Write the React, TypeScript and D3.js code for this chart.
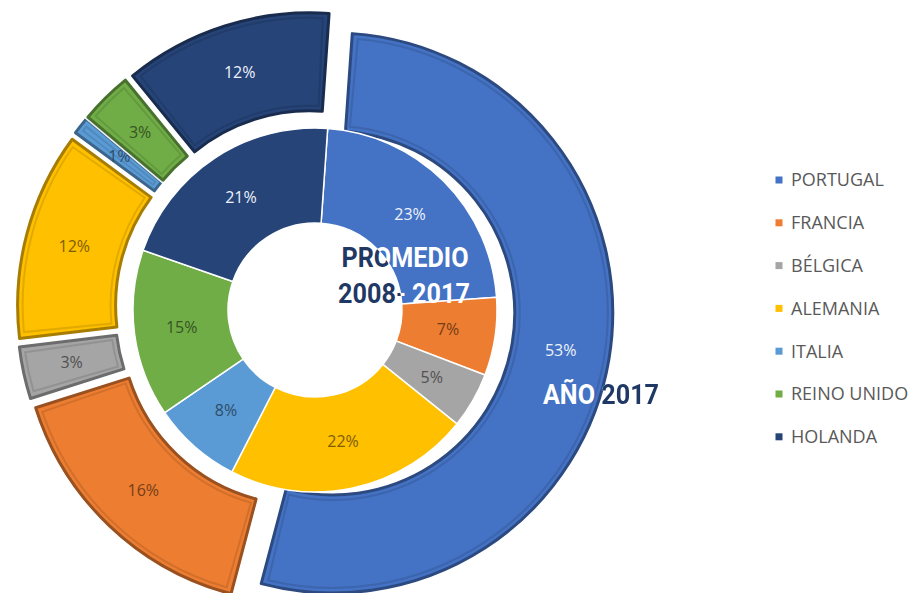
import * as d3 from 'd3'
import { useEffect, useRef } from 'react'

const WIDTH = 923
const HEIGHT = 593

const COUNTRIES = ['PORTUGAL', 'FRANCIA', 'BÉLGICA', 'ALEMANIA', 'ITALIA', 'REINO UNIDO', 'HOLANDA']
const COLORS = ['#4472C4', '#ED7D31', '#A5A5A5', '#FFC000', '#5B9BD5', '#70AD47', '#264478']
const PROMEDIO_2008_2017 = [23, 7, 5, 22, 8, 15, 21]
const ANIO_2017 = [53, 16, 3, 12, 1, 3, 12]
const WHITE_LABELS = ['PORTUGAL', 'HOLANDA']

// geometry
const CX = 315
const CY = 310
const R_HOLE = 87
const R_MID = 182
const R_OUT = 280
const EXPLODE = 18
const ROT = (4 * Math.PI) / 180

type Slice = d3.PieArcDatum<number> & { name: string; color: string }

const labelColor = (name: string, color: string) =>
  WHITE_LABELS.includes(name) ? '#eef2fb' : d3.color(color)!.darker(2).formatHex()

function drawChart(el: SVGSVGElement) {
  const svg = d3.select(el)
  svg.selectAll('*').remove()
  const defs = svg.append('defs')

  const pie = d3
    .pie<number>()
    .sort(null)
    .value((d) => d)
    .startAngle(ROT)
    .endAngle(ROT + 2 * Math.PI)

  const toSlices = (vals: number[]): Slice[] =>
    pie(vals).map((p, i) => ({ ...p, name: COUNTRIES[i], color: COLORS[i] }))

  const inner = toSlices(PROMEDIO_2008_2017)
  const outer = toSlices(ANIO_2017)

  const innerArc = d3.arc<Slice>().innerRadius(R_HOLE).outerRadius(R_MID)
  const outerArc = d3.arc<Slice>().innerRadius(R_MID).outerRadius(R_OUT)

  const g = svg.append('g').attr('transform', `translate(${CX},${CY})`)

  // outer ring (año 2017), exploded slices with a bevel look
  const shift = (d: Slice) => {
    const a = (d.startAngle + d.endAngle) / 2
    return [Math.sin(a) * EXPLODE, -Math.cos(a) * EXPLODE]
  }
  const outerG = g
    .selectAll('g.outer')
    .data(outer)
    .join('g')
    .attr('class', 'outer')
    .attr('transform', (d) => `translate(${shift(d)[0]},${shift(d)[1]})`)

  outerG
    .append('path')
    .attr('d', (d) => outerArc(d))
    .attr('fill', (d) => d.color)
    .attr('stroke', '#ffffff')
    .attr('stroke-width', 6)
    .attr('stroke-opacity', 0.9)
  outerG
    .append('path')
    .attr('d', (d) => outerArc(d))
    .attr('fill', (d) => d.color)
    .attr('stroke', (d) => d3.color(d.color)!.darker(1.2).formatHex())
    .attr('stroke-width', 3)
    .attr('stroke-linejoin', 'round')
  const inset = 5
  const rm = (R_MID + R_OUT) / 2
  const insetArc = d3
    .arc<Slice>()
    .innerRadius(R_MID + inset)
    .outerRadius(R_OUT - inset)
    .startAngle((d) => d.startAngle + inset / rm)
    .endAngle((d) => Math.max(d.startAngle + inset / rm + 0.005, d.endAngle - inset / rm))
  outerG
    .append('path')
    .attr('d', (d) => insetArc(d))
    .attr('fill', 'none')
    .attr('stroke', (d) => d3.color(d.color)!.darker(0.5).formatHex())
    .attr('stroke-width', 2)
    .attr('stroke-opacity', 0.7)

  outerG
    .append('text')
    .attr('transform', (d) => `translate(${outerArc.centroid(d)})`)
    .attr('text-anchor', 'middle')
    .attr('dy', '0.35em')
    .attr('font-family', '"Open Sans", sans-serif')
    .attr('font-size', 16)
    .attr('fill', (d) => labelColor(d.name, d.color))
    .text((d) => `${d.data}%`)

  // inner ring (promedio 2008-2017)
  const innerG = g.selectAll('g.inner').data(inner).join('g').attr('class', 'inner')
  innerG
    .append('path')
    .attr('d', (d) => innerArc(d))
    .attr('fill', (d) => d.color)
    .attr('stroke', '#ffffff')
    .attr('stroke-width', 1.5)
  innerG
    .append('text')
    .attr('transform', (d) => `translate(${innerArc.centroid(d)})`)
    .attr('text-anchor', 'middle')
    .attr('dy', '0.35em')
    .attr('font-family', '"Open Sans", sans-serif')
    .attr('font-size', 16)
    .attr('fill', (d) => labelColor(d.name, d.color))
    .text((d) => `${d.data}%`)

  // two-tone titles: white over the blue, navy over the white background
  defs
    .append('clipPath')
    .attr('id', 'hole-clip')
    .append('circle')
    .attr('cx', CX)
    .attr('cy', CY)
    .attr('r', R_HOLE)
  const portugal = outer[0]
  const pMask = defs.append('mask').attr('id', 'off-portugal')
  pMask.append('rect').attr('width', WIDTH).attr('height', HEIGHT).attr('fill', 'white')
  pMask
    .append('path')
    .attr('transform', `translate(${CX + shift(portugal)[0]},${CY + shift(portugal)[1]})`)
    .attr('d', outerArc(portugal))
    .attr('fill', 'black')

  const title = (parent: d3.Selection<SVGGElement, unknown, null, undefined>, x: number, y: number, s: string, color: string) =>
    parent
      .append('text')
      .attr('transform', `translate(${x},${y}) scale(0.9,1)`)
      .attr('font-family', 'Roboto, "Open Sans", sans-serif')
      .attr('font-weight', 700)
      .attr('font-size', 28)
      .attr('text-anchor', 'middle')
      .attr('fill', color)
      .text(s)

  const promedio = (color: string) => {
    const t = svg.append('g')
    title(t, 405, 267, 'PROMEDIO', color)
    title(t, 404, 303, '2008- 2017', color)
    return t
  }
  promedio('#ffffff')
  promedio('#1f3864').attr('clip-path', 'url(#hole-clip)')

  const anio = (color: string) => {
    const t = svg.append('g')
    title(t, 601, 404, 'AÑO 2017', color)
    return t
  }
  anio('#ffffff')
  anio('#1f3864').attr('mask', 'url(#off-portugal)')

  // legend
  const legend = svg
    .append('g')
    .selectAll('g')
    .data(COUNTRIES)
    .join('g')
    .attr('transform', (_, i) => `translate(779,${180 + i * 42.8})`)
  legend
    .append('rect')
    .attr('x', -3.5)
    .attr('y', -3.5)
    .attr('width', 7)
    .attr('height', 7)
    .attr('fill', (_, i) => COLORS[i])
  legend
    .append('text')
    .attr('x', 12)
    .attr('dy', '0.36em')
    .attr('font-family', '"Open Sans", sans-serif')
    .attr('font-size', 18)
    .attr('fill', '#595959')
    .text((d) => d)
}

export default function App() {
  const ref = useRef<SVGSVGElement>(null)
  useEffect(() => {
    if (ref.current) drawChart(ref.current)
  }, [])
  return (
    <div style={{ position: 'absolute', left: 0, top: 0 }}>
      <svg ref={ref} width={WIDTH} height={HEIGHT} style={{ display: 'block', background: '#ffffff' }} />
    </div>
  )
}
